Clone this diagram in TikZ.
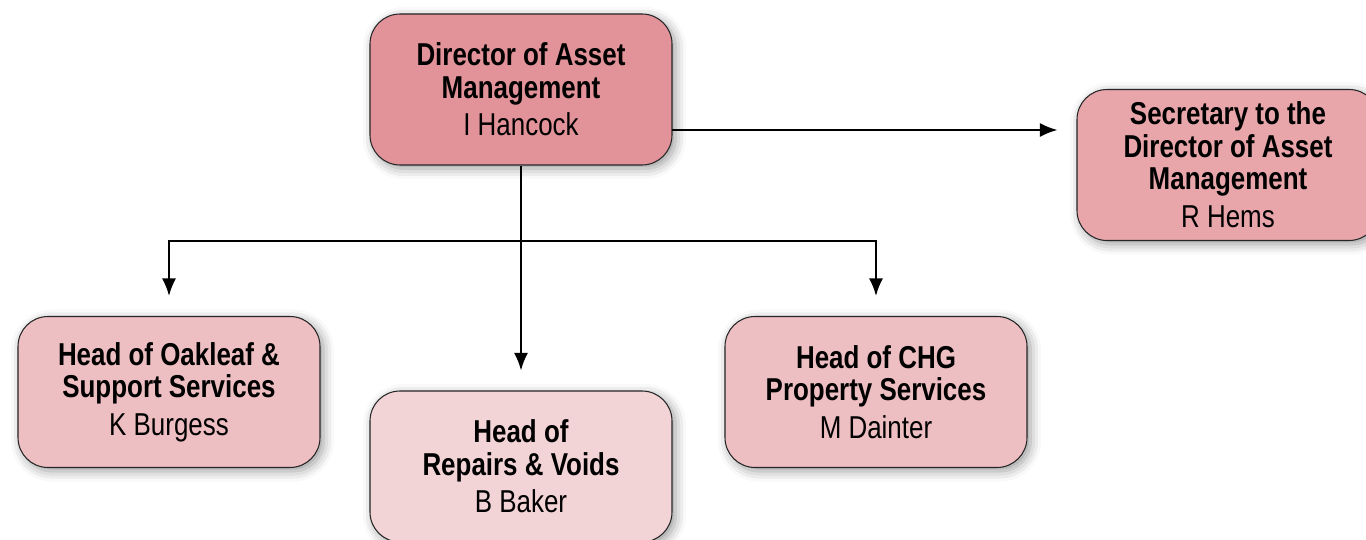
\documentclass[tikz,border=0pt]{standalone}
\usepackage{fontspec}
\setmainfont[FakeStretch=0.82]{Liberation Sans}
\usetikzlibrary{arrows.meta,shadows.blur}

\definecolor{dirpink}{RGB}{226,146,153}
\definecolor{secpink}{RGB}{232,166,171}
\definecolor{headpink}{RGB}{237,190,194}
\definecolor{lightpink}{RGB}{243,212,214}

\tikzset{
	post/.style={draw=black!85, line width=0.6pt, rounded corners=0.6cm,
		minimum width=6.04cm, minimum height=3.02cm, align=center,
		font=\fontsize{18}{18.5}\selectfont,
		blur shadow={shadow xshift=2pt, shadow yshift=-2pt, shadow blur radius=6pt, shadow opacity=40}},
	link/.style={line width=1.1pt, -{Latex[length=10pt, width=8pt]}}
}

\begin{document}
\begin{tikzpicture}
			%%%%% START %%%%%
			
			\useasboundingbox (0, 0) rectangle (27.32, -10.8);
			
			\node[post, fill=dirpink] (dir) at (10.42, -1.79)
				{\textbf{Director of Asset}\\\textbf{Management}\\[3pt]I Hancock};
			\node[post, fill=secpink] (sec) at (24.56, -3.3)
				{\textbf{Secretary to the}\\\textbf{Director of Asset}\\\textbf{Management}\\[3pt]R Hems};
			
			\node[post, fill=headpink] (oak) at (3.38, -7.84)
				{\textbf{Head of Oakleaf \&}\\\textbf{Support Services}\\[3pt]K Burgess};
			\node[post, fill=lightpink] (rep) at (10.42, -9.33)
				{\textbf{Head of}\\\textbf{Repairs \& Voids}\\[3pt]B Baker};
			\node[post, fill=headpink] (chg) at (17.52, -7.84)
				{\textbf{Head of CHG}\\\textbf{Property Services}\\[3pt]M Dainter};
			
			\coordinate (bus) at (10.42, -4.82);
			\coordinate (side) at (13.44, -2.6);
			
			\draw[link, shorten >=0.38cm] (side) -- (side -| sec.west);
			\draw[link, shorten >=0.4cm] (dir.south) -- (rep.north);
			\draw[link, shorten >=0.4cm] (bus) -| (oak.north);
			\draw[link, shorten >=0.4cm] (bus) -| (chg.north);
			
			%%%%% END %%%%%
		\end{tikzpicture}
\end{document}
